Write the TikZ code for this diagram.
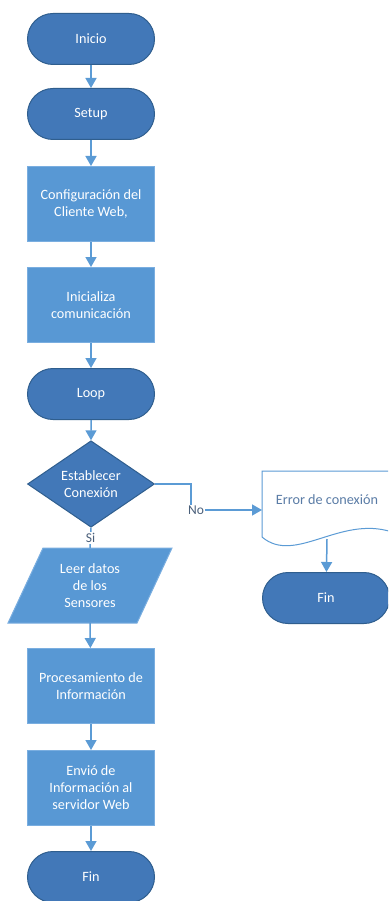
\documentclass[tikz,border=0pt]{standalone}
\usepackage{fontspec}
\setmainfont{Carlito}
\usetikzlibrary{shapes.geometric,shapes.misc,arrows.meta}
\definecolor{termfill}{HTML}{4278B8}
\definecolor{termdraw}{HTML}{2F5E8E}
\definecolor{boxfill}{HTML}{5898D4}
\definecolor{boxdraw}{HTML}{7AAEE0}
\definecolor{arrowc}{HTML}{5B9BD5}
\definecolor{doctext}{HTML}{5A7CA6}
\definecolor{lbl}{HTML}{4A5F7A}
\tikzset{
  base/.style={font=\fontsize{14.2}{17}\selectfont, text=white, align=center, inner sep=0pt},
  term/.style={base, rounded rectangle, minimum width=127pt, minimum height=51pt, fill=termfill, draw=termdraw, line width=1pt},
  procbox/.style={base, rectangle, minimum width=127pt, minimum height=75pt, fill=boxfill, draw=boxdraw, line width=1pt},
  decis/.style={base, diamond, minimum width=127pt, minimum height=74pt, fill=termfill, draw=termdraw, line width=1pt},
  txt/.style={base, minimum width=127pt, minimum height=74pt},
  conn/.style={draw=arrowc, line width=1.5pt, -{Triangle[width=11pt,length=10pt]}},
  plain/.style={draw=arrowc, line width=1.5pt},
  edgelbl/.style={font=\fontsize{13.5}{15}\selectfont, text=lbl, fill=white, inner sep=1pt}
}
\begin{document}
\begin{tikzpicture}[x=1pt,y=-1pt]
\useasboundingbox (0,0) rectangle (388,901);
\clip (0,0) rectangle (388,901);
\fill[white] (0,0) rectangle (388,901);

% main column
\node[term] (ini) at (91,39) {Inicio};
\node[term] (setup) at (91,114) {Setup};
\node[procbox] (conf) at (91,204) {Configuración del\\Cliente Web,};
\node[procbox] (inic) at (91,305) {Inicializa\\comunicación};
\node[term] (loop) at (91,394) {Loop};
\node[decis] (dia) at (91,484) {Establecer\\Conexión};

% parallelogram
\fill[boxfill] (43,548) -- (172,548) -- (137,623) -- (8,623) -- cycle;
\draw[boxdraw, line width=1pt] (43,548) -- (172,548) -- (137,623) -- (8,623) -- cycle;
\node[txt] (leer) at (90,585.5) {Leer datos\\de los\\Sensores};

\node[procbox] (proc) at (91,686) {Procesamiento de\\Información};
\node[procbox] (env) at (91,788) {Envió de\\Información al\\servidor Web};
\node[term] (fin) at (91,877) {Fin};

% error document
\fill[white] (262,471) -- (395,471) -- (395,530) -- (392,532) .. controls (340,515) and (295,565) .. (262,537) -- cycle;
\draw[arrowc, line width=1pt] (395,471) -- (262,471) -- (262,537) .. controls (295,565) and (340,515) .. (392,532) -- (395,530);
\node[base, text=doctext, minimum width=130pt, minimum height=50pt] (err) at (327,500) {Error de conexión};
\coordinate (errb) at (327,539);
\coordinate (errin) at (262,510);
\node[term] (fin2) at (326,598) {Fin};

% connectors
\draw[conn] (ini) -- (setup);
\draw[conn] (setup) -- (conf);
\draw[conn] (conf) -- (inic);
\draw[conn] (inic) -- (loop);
\draw[conn] (loop) -- (dia);
\draw[plain] (dia.south) -- (leer.north) node[pos=0.5, edgelbl] (si) {Si};
\draw[conn] (leer.south) -- (proc);
\draw[conn] (proc) -- (env);
\draw[conn] (env) -- (fin);

\coordinate (c1) at (191,484);
\coordinate (c2) at (191,510);
\draw[conn] (dia.east) -- (c1) -- (c2) -- (errin);
\node[edgelbl] (no) at (196,510) {No};
\draw[conn] (errb) -- (fin2);
\end{tikzpicture}
\end{document}
